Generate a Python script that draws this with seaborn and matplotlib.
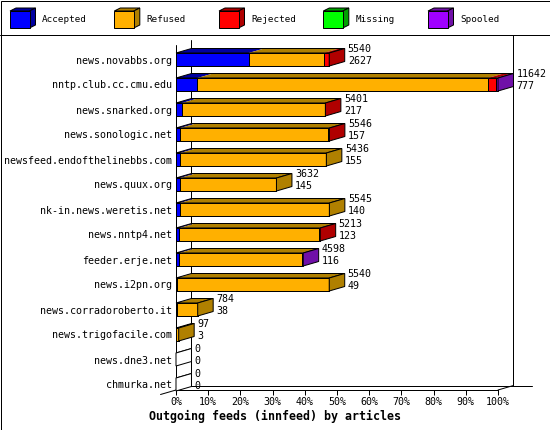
import numpy as np
import matplotlib
matplotlib.use("Agg")
import matplotlib.pyplot as plt
from matplotlib.patches import Polygon, Rectangle
import seaborn as sns

# ---- data ----
hosts = ["news.novabbs.org", "nntp.club.cc.cmu.edu", "news.snarked.org",
         "news.sonologic.net", "newsfeed.endofthelinebbs.com", "news.quux.org",
         "nk-in.news.weretis.net", "news.nntp4.net", "feeder.erje.net",
         "news.i2pn.org", "news.corradoroberto.it", "news.trigofacile.com",
         "news.dne3.net", "chmurka.net"]
offered = [5540, 11642, 5401, 5546, 5436, 3632, 5545, 5213, 4598, 5540, 784, 97, 0, 0]
accepted = [2627, 777, 217, 157, 155, 145, 140, 123, 116, 49, 38, 3, 0, 0]
refused = [2713, 10505, 5164, 5349, 5281, 3487, 5405, 5040, 4422, 5491, 746, 94, 0, 0]
rejected = [200, 290, 20, 40, 0, 0, 0, 50, 30, 0, 0, 0, 0, 0]
missing = [0, 0, 0, 0, 0, 0, 0, 0, 0, 0, 0, 0, 0, 0]
spooled = [0, 70, 0, 0, 0, 0, 0, 0, 30, 0, 0, 0, 0, 0]

status_names = ["Accepted", "Refused", "Rejected", "Missing", "Spooled"]
front_colors = ["#0000ff", "#ffb000", "#ff0000", "#00ff00", "#a000ff"]
dark_colors = ["#0000a0", "#b08000", "#b00000", "#00a000", "#7010a8"]
x_ticks = [0, 10, 20, 30, 40, 50, 60, 70, 80, 90, 100]

sns.set_style("white")
plt.rcParams["font.family"] = ["DejaVu Sans Mono"]
plt.rcParams["text.color"] = "black"
plt.rcParams["xtick.color"] = "black"
plt.rcParams["ytick.color"] = "black"

W, H = 550, 430
fig = plt.figure(figsize=(W / 100, H / 100), dpi=100)
fig.patch.set_facecolor("white")

# pixel-space overlay for border, legend and title
over = fig.add_axes([0, 0, 1, 1])
over.set_xlim(0, W)
over.set_ylim(H, 0)
over.axis("off")

# main plot area: 0..100% maps to px 176..498, rows 25 px apart
ax = fig.add_axes([176 / W, (H - 390) / H, 322 / W, (390 - 35) / H])
ax.patch.set_alpha(0)

counts = np.array([accepted, refused, rejected, missing, spooled], dtype=float).T
pct = counts / max(offered) * 100
cum = np.cumsum(pct, axis=1)
lefts = cum - pct

dx, dy = 4.81, -0.18   # depth offset in data units (about 15.5 px right, 4.5 px up)
half = 0.26
lw = 0.72

# back walls and floor
ytop_front, ytop_back, y_floor = -0.59, -0.77, 13.22
ax.plot([0, 0], [ytop_front, y_floor], color="black", lw=lw, clip_on=False, zorder=0)
ax.plot([dx, dx], [ytop_back, y_floor + dy], color="black", lw=lw, clip_on=False, zorder=0)
ax.plot([dx, 110.6], [y_floor + dy, y_floor + dy], color="black", lw=lw, clip_on=False, zorder=0)
ax.plot([100 + dx, 100 + dx], [-0.98, y_floor + dy], color="black", lw=lw, clip_on=False, zorder=0)
ax.plot([100, 100 + dx], [y_floor, y_floor + dy], color="black", lw=lw, clip_on=False, zorder=0)
ax.plot([-dx, dx], [y_floor - dy, y_floor + dy], color="black", lw=lw, clip_on=False, zorder=0)

# front faces: cumulative bars drawn from the outermost segment inwards
for k in reversed(range(5)):
    sns.barplot(x=cum[:, k], y=hosts, orient="h", color=front_colors[k], saturation=1,
                width=2 * half, edgecolor="black", linewidth=lw, errorbar=None, ax=ax,
                zorder=3, clip_on=False)

# top and side faces
for i in range(len(hosts)):
    top, bot = i - half, i + half
    end = cum[i, -1]
    for k in range(5):
        if pct[i, k] > 0:
            x0, x1 = lefts[i, k], cum[i, k]
            ax.add_patch(Polygon([(x0, top), (x1, top), (x1 + dx, top + dy), (x0 + dx, top + dy)],
                                 closed=True, facecolor=dark_colors[k], edgecolor="none",
                                 zorder=2, clip_on=False))
    ax.add_patch(Polygon([(0, top), (end, top), (end + dx, top + dy), (dx, top + dy)],
                         closed=True, facecolor="none", edgecolor="black", lw=lw,
                         zorder=4, clip_on=False))
    nz = [k for k in range(5) if pct[i, k] > 0]
    side_fc = dark_colors[nz[-1]] if nz else "white"
    ax.add_patch(Polygon([(end, top), (end, bot), (end + dx, bot + dy), (end + dx, top + dy)],
                         closed=True, facecolor=side_fc, edgecolor="black", lw=lw,
                         zorder=4, clip_on=False))
    ax.text(end + dx + 0.95, i - 0.42, str(offered[i]), fontsize=7.2, va="center", ha="left")
    ax.text(end + dx + 0.95, i + 0.07, str(accepted[i]), fontsize=7.2, va="center", ha="left")

ax.set_xlim(0, 100)
ax.set_ylim(y_floor, -0.98)
for s in ["top", "right", "left"]:
    ax.spines[s].set_visible(False)
ax.spines["bottom"].set_color("black")
ax.spines["bottom"].set_linewidth(lw)
ax.set_xticks(x_ticks)
ax.set_xticklabels([f"{t}%" for t in x_ticks])
ax.tick_params(axis="x", bottom=True, direction="out", length=3.6, width=lw,
               pad=1.5, labelsize=7.2)
ax.tick_params(axis="y", left=False, length=0, pad=2.9, labelsize=7.2)
ax.set_xlabel("")
ax.set_ylabel("")

# border, legend separator, legend cubes
over.add_patch(Rectangle((0.5, 0.5), W - 1, H - 1, facecolor="none", edgecolor="black", lw=lw))
over.plot([0, W], [35, 35], color="black", lw=lw)
cube_x = [10, 114.3, 219, 323.3, 428]
for k, name in enumerate(status_names):
    x0 = cube_x[k]
    over.add_patch(Polygon([(x0, 11), (x0 + 19.5, 11), (x0 + 25.5, 8), (x0 + 6, 8)],
                           closed=True, facecolor=dark_colors[k], edgecolor="black", lw=lw))
    over.add_patch(Polygon([(x0 + 19.5, 11), (x0 + 19.5, 28), (x0 + 25.5, 25), (x0 + 25.5, 8)],
                           closed=True, facecolor=dark_colors[k], edgecolor="black", lw=lw))
    over.add_patch(Rectangle((x0, 11), 19.5, 17, facecolor=front_colors[k],
                             edgecolor="black", lw=lw))
    over.text(x0 + 32.3, 20, name, fontsize=6.7, va="center", ha="left")

over.text(275, 416, "Outgoing feeds (innfeed) by articles", fontsize=8.4,
          fontweight="bold", ha="center", va="center")

fig.savefig("out.png", dpi=100)
